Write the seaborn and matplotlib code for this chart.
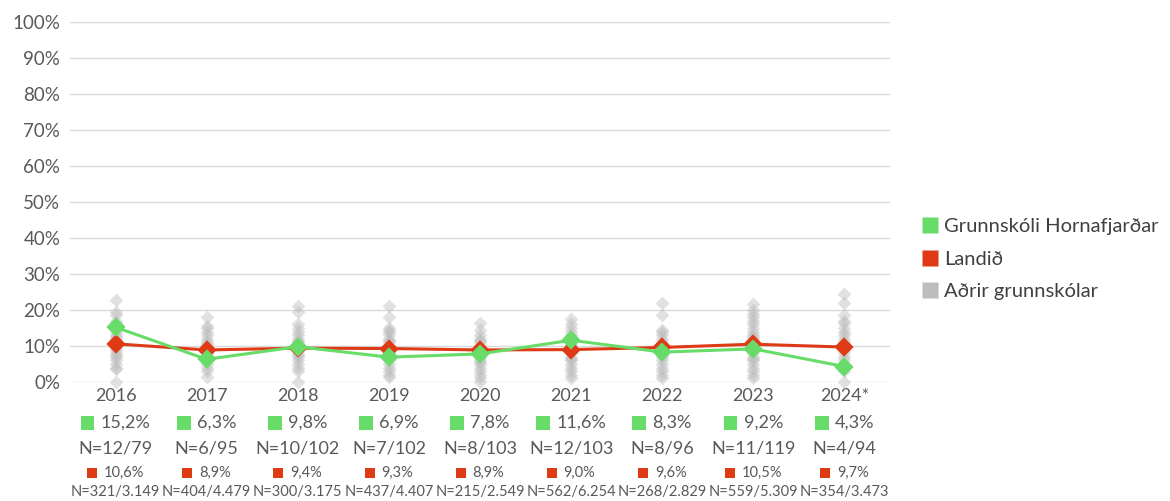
import matplotlib
matplotlib.use("Agg")
import matplotlib.pyplot as plt
import matplotlib.transforms as mtransforms
from matplotlib.lines import Line2D
from matplotlib.patches import Rectangle
from matplotlib.offsetbox import AnnotationBbox, HPacker, TextArea, DrawingArea
import seaborn as sns
import pandas as pd

# --- data -------------------------------------------------------------
years = ["2016", "2017", "2018", "2019", "2020", "2021", "2022", "2023", "2024*"]

school = [15.2, 6.3, 9.8, 6.9, 7.8, 11.6, 8.3, 9.2, 4.3]
school_n = ["N=12/79", "N=6/95", "N=10/102", "N=7/102", "N=8/103",
            "N=12/103", "N=8/96", "N=11/119", "N=4/94"]
school_lbl = ["15,2%", "6,3%", "9,8%", "6,9%", "7,8%", "11,6%", "8,3%", "9,2%", "4,3%"]

country = [10.6, 8.9, 9.4, 9.3, 8.9, 9.0, 9.6, 10.5, 9.7]
country_n = ["N=321/3.149", "N=404/4.479", "N=300/3.175", "N=437/4.407", "N=215/2.549",
             "N=562/6.254", "N=268/2.829", "N=559/5.309", "N=354/3.473"]
country_lbl = ["10,6%", "8,9%", "9,4%", "9,3%", "8,9%", "9,0%", "9,6%", "10,5%", "9,7%"]

others_2016 = [22.8, 19.5, 18.5, 17.0, 16.0, 15.0, 14.0, 13.0, 12.5, 12.0, 11.0, 10.0,
               9.5, 9.0, 8.0, 7.5, 7.0, 6.0, 5.0, 4.0, 3.5, 0.0]
others_2017 = [18.0, 15.5, 15.0, 14.0, 13.0, 12.0, 11.0, 10.5, 10.0, 9.0, 8.5, 8.0,
               7.0, 6.5, 6.0, 5.0, 4.0, 3.0, 1.5]
others_2018 = [21.0, 19.5, 16.0, 15.0, 14.0, 13.0, 12.0, 11.5, 11.0, 10.0, 9.5, 9.0,
               8.0, 7.5, 7.0, 6.0, 5.0, 4.0, 3.0, 0.0]
others_2019 = [21.0, 18.0, 15.0, 14.5, 14.0, 13.0, 12.0, 11.5, 11.0, 10.0, 9.5, 9.0,
               8.5, 8.0, 7.0, 6.5, 6.0, 5.0, 4.0, 3.0, 2.0, 1.5]
others_2020 = [16.3, 14.5, 13.0, 12.0, 11.5, 11.0, 10.0, 9.5, 9.0, 8.0, 7.0, 6.0,
               5.5, 5.0, 4.0, 3.0, 2.0, 1.0, 0.0]
others_2021 = [17.5, 16.0, 15.0, 14.0, 13.0, 12.0, 11.0, 10.5, 10.0, 9.5, 9.0, 8.0,
               7.0, 6.5, 6.0, 5.0, 4.0, 3.0, 2.0, 1.0]
others_2022 = [22.0, 18.6, 14.5, 14.0, 13.0, 12.0, 11.0, 10.0, 9.0, 8.0, 7.5, 7.0,
               6.0, 5.0, 4.0, 3.0, 2.0, 1.0]
others_2023 = [21.7, 20.0, 19.0, 18.0, 17.0, 16.0, 15.0, 14.0, 13.0, 12.5, 12.0, 11.0,
               10.0, 9.5, 9.0, 8.0, 7.0, 6.5, 6.0, 5.0, 4.0, 3.0, 2.0, 1.0]
others_2024 = [24.5, 21.9, 18.6, 17.0, 16.5, 15.0, 14.0, 13.0, 12.0, 11.0, 10.5, 10.0,
               9.0, 8.0, 7.0, 6.0, 5.0, 4.0, 3.0, 0.0]

others = [others_2016, others_2017, others_2018, others_2019, others_2020,
          others_2021, others_2022, others_2023, others_2024]

legend_labels = ["Grunnskóli Hornafjarðar", "Landið", "Aðrir grunnskólar"]

# --- style ------------------------------------------------------------
GREEN = "#68DC68"
RED = "#DE3A16"
GREY = "#BDBDBD"
TXT = "#595959"

sns.set_theme(style="white")
plt.rcParams["font.family"] = ["Lato", "DejaVu Sans"]

df_others = pd.DataFrame(
    [(y, v) for y, vals in zip(years, others) for v in vals], columns=["year", "value"]
)
df_school = pd.DataFrame({"year": years, "value": school})
df_country = pd.DataFrame({"year": years, "value": country})

fig = plt.figure(figsize=(11.70, 5.01), dpi=100)
ax = fig.add_axes([70 / 1170, 1 - 382 / 501, 820 / 1170, 360 / 501])

sns.stripplot(data=df_others, x="year", y="value", order=years, jitter=False,
              marker="D", color=GREY, alpha=0.45, size=7, linewidth=0,
              ax=ax, clip_on=False, zorder=2)
sns.pointplot(data=df_country, x="year", y="value", order=years, color=RED,
              markers="D", markersize=8, linewidth=2.2, errorbar=None, ax=ax)
sns.pointplot(data=df_school, x="year", y="value", order=years, color=GREEN,
              markers="D", markersize=8, linewidth=2.2, errorbar=None, ax=ax)
for ln in ax.lines:
    ln.set_clip_on(False)

ax.set_xlim(-0.5, len(years) - 0.5)
ax.set_ylim(0, 100)
ax.set_yticks(range(0, 101, 10))
ax.set_yticklabels([f"{v}%" for v in range(0, 101, 10)])
ax.yaxis.grid(True, color="#D9D9D9", linewidth=1.0, zorder=0)
ax.xaxis.grid(False)
ax.set_axisbelow(True)
for s in ax.spines.values():
    s.set_visible(False)
ax.tick_params(axis="y", length=0, pad=7, labelsize=13.5, labelcolor=TXT)
ax.tick_params(axis="x", length=0, pad=4, labelsize=13, labelcolor=TXT)
ax.set_xlabel("")
ax.set_ylabel("")

# --- value rows under the axis ---------------------------------------
trans = mtransforms.blended_transform_factory(ax.transData, fig.transFigure)


def fy(px):
    return 1 - px / 501


def swatch_label(x, ypx, color, text, size, sq, sep):
    da = DrawingArea(sq, sq, 0, 0)
    da.add_artist(Rectangle((0, 0), sq, sq, facecolor=color, edgecolor="none"))
    ta = TextArea(text, textprops=dict(color=TXT, fontsize=size))
    box = HPacker(children=[da, ta], align="center", pad=0, sep=sep)
    ab = AnnotationBbox(box, (x, fy(ypx)), xycoords=trans, frameon=False,
                        box_alignment=(0.5, 0.5), pad=0, annotation_clip=False)
    ax.add_artist(ab)


for i in range(len(years)):
    swatch_label(i, 423, GREEN, school_lbl[i], 13, 10, 4.5)
    ax.text(i, fy(448), school_n[i], transform=trans, ha="center", va="center",
            fontsize=13, color=TXT)
    swatch_label(i, 473, RED, country_lbl[i], 10.5, 7.2, 5)
    ax.text(i, fy(492), country_n[i], transform=trans, ha="center", va="center",
            fontsize=10.5, color=TXT)

# --- legend -----------------------------------------------------------
handles = [Line2D([], [], marker="s", linestyle="none", markersize=11,
                  markerfacecolor=c, markeredgecolor="none")
           for c in (GREEN, RED, GREY)]
fig.legend(handles, legend_labels, loc="center left",
           bbox_to_anchor=(922 / 1170, fy(259)), frameon=False, fontsize=14.5,
           handlelength=0.75, handletextpad=0.35, labelspacing=0.78,
           labelcolor="#404040", borderaxespad=0, borderpad=0)

fig.savefig("out.png", dpi=100)
